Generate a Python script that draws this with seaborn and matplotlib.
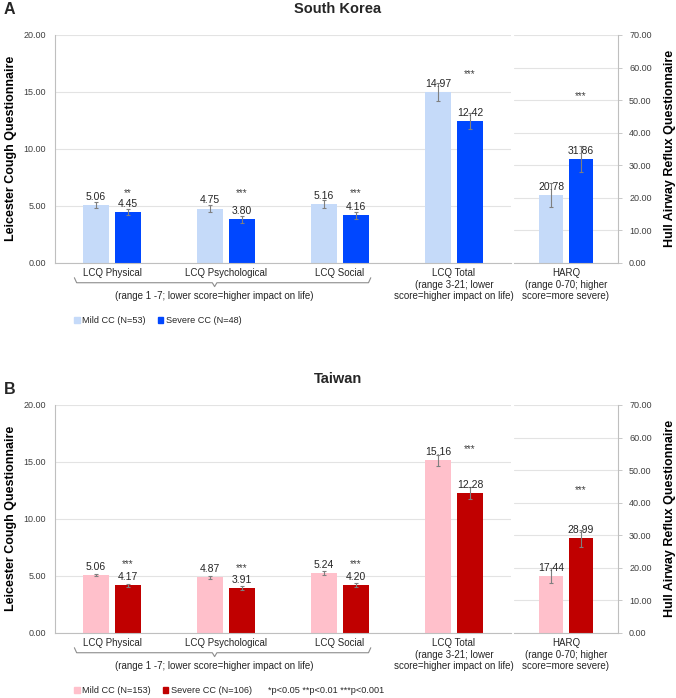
import numpy as np
import pandas as pd
import matplotlib
matplotlib.use('Agg')
import matplotlib.pyplot as plt
import matplotlib.transforms as mtransforms
from matplotlib.patches import Patch
import seaborn as sns

sns.set_style('white')
plt.rcParams['font.family'] = ['Liberation Sans', 'DejaVu Sans']

W, H = 676, 698
LCQ_CATS = ['LCQ Physical', 'LCQ Psychological', 'LCQ Social',
            'LCQ Total\n(range 3-21; lower\nscore=higher impact on life)']
HARQ_CAT = ['HARQ\n(range 0-70; higher\nscore=more severe)']
GROUPS = ['Mild CC', 'Severe CC']

# South Korea
kr_mild = [5.06, 4.75, 5.16, 14.97]
kr_severe = [4.45, 3.80, 4.16, 12.42]
kr_mild_err = [0.25, 0.32, 0.33, 0.80]
kr_severe_err = [0.28, 0.32, 0.32, 0.72]
kr_harq = [20.78, 31.86]
kr_harq_err = [3.7, 4.0]
kr_sig = ['**', '***', '***', '***']
kr_sig_y = [6.15, 6.1, 6.1, 16.6]
kr_harq_sig = '***'
kr_harq_sig_y = 51.3
kr_n = [53, 48]

# Taiwan
tw_mild = [5.06, 4.87, 5.24, 15.16]
tw_severe = [4.17, 3.91, 4.20, 12.28]
tw_mild_err = [0.12, 0.15, 0.20, 0.48]
tw_severe_err = [0.15, 0.15, 0.18, 0.55]
tw_harq = [17.44, 28.99]
tw_harq_err = [2.3, 2.6]
tw_sig = ['***', '***', '***', '***']
tw_sig_y = [6.0, 5.7, 6.0, 16.1]
tw_harq_sig = '***'
tw_harq_sig_y = 43.8
tw_n = [153, 106]

KR_COLORS = ['#C5DAF9', '#0047FF']
TW_COLORS = ['#FFC0CB', '#C00000']

GRID = '#e3e3e3'
SPINE = '#bfbfbf'
TXT = '#262626'


def rect(l, t, r, b):
    return [l / W, 1 - b / H, (r - l) / W, (b - t) / H]


def bar_labels(ax, errs):
    for cont, err in zip(ax.containers, errs):
        for bar, e in zip(cont, err):
            x = bar.get_x() + bar.get_width() / 2
            h = bar.get_height()
            ax.errorbar(x, h, yerr=e, color='#7f7f7f', lw=0.8, capsize=1.5,
                        capthick=0.8, zorder=4)
            ax.annotate(f'{h:.2f}', (x, h), xytext=(0, 6), textcoords='offset points',
                        ha='center', va='center', fontsize=7.5, color=TXT, zorder=5)


def style_axis(ax, side):
    ax.yaxis.grid(True, color=GRID, lw=0.8)
    ax.set_axisbelow(True)
    ax.set_xlabel('')
    for s in ['top', 'left', 'right']:
        ax.spines[s].set_visible(False)
    ax.spines['bottom'].set_color(SPINE)
    ax.spines[side].set_visible(True)
    ax.spines[side].set_color(SPINE)
    ax.tick_params(axis='x', length=0, pad=4, labelsize=7, labelcolor=TXT)
    ax.tick_params(axis='y', length=3, width=0.6, color=SPINE, labelsize=6.5,
                   labelcolor='#404040')


def panel(top, letter, title, letter_dy, colors, mild, severe, mild_err, severe_err,
          harq, harq_err, sig, sig_y, harq_sig, harq_sig_y, n, pnote):
    pal = dict(zip(GROUPS, colors))
    bot = top + 227.7
    ax1 = fig.add_axes(rect(55, top, 511, bot))
    ax2 = fig.add_axes(rect(514, top, 618, bot))

    df = pd.DataFrame({'domain': LCQ_CATS * 2,
                       'group': [g for g in GROUPS for _ in LCQ_CATS],
                       'value': mild + severe})
    sns.barplot(data=df, x='domain', y='value', hue='group', order=LCQ_CATS,
                hue_order=GROUPS, palette=pal, saturation=1, width=0.56, gap=0.19,
                errorbar=None, legend=False, linewidth=0, ax=ax1)
    dh = pd.DataFrame({'domain': HARQ_CAT * 2, 'group': GROUPS, 'value': harq})
    sns.barplot(data=dh, x='domain', y='value', hue='group', order=HARQ_CAT,
                hue_order=GROUPS, palette=pal, saturation=1, width=0.57, gap=0.19,
                errorbar=None, legend=False, linewidth=0, ax=ax2)

    bar_labels(ax1, [mild_err, severe_err])
    bar_labels(ax2, [[harq_err[0]], [harq_err[1]]])

    for bar, s, y in zip(ax1.containers[1], sig, sig_y):
        ax1.text(bar.get_x() + bar.get_width() / 2, y, s, ha='center', va='center',
                 fontsize=7, color='#404040')
    b = ax2.containers[1][0]
    ax2.text(b.get_x() + b.get_width() / 2, harq_sig_y, harq_sig, ha='center',
             va='center', fontsize=7, color='#404040')

    ax1.set_ylim(0, 20)
    ax1.set_yticks(np.arange(0, 21, 5))
    ax1.set_yticklabels([f'{v:.2f}' for v in np.arange(0, 21, 5)])
    ax1.set_xlim(-0.5, 3.5)
    style_axis(ax1, 'left')
    ax1.set_ylabel('Leicester Cough Questionnaire', fontsize=9, weight='bold',
                   color='black', labelpad=5)

    ax2.set_ylim(0, 70)
    ax2.set_yticks(np.arange(0, 71, 10))
    ax2.set_yticklabels([f'{v:.2f}' for v in np.arange(0, 71, 10)])
    ax2.set_xlim(-0.5, 0.5)
    ax2.yaxis.tick_right()
    ax2.yaxis.set_label_position('right')
    style_axis(ax2, 'right')
    ax2.tick_params(axis='y', pad=5)
    ax2.set_ylabel('Hull Airway Reflux Questionnaire', fontsize=9, weight='bold',
                   color='black', labelpad=9)

    # bracket under the three LCQ subscales
    tr = mtransforms.blended_transform_factory(ax1.transData, ax1.transAxes)
    bx = [-0.33, -0.31, 0.88, 0.90, 0.92, 2.25, 2.27]
    by = [-0.066, -0.088, -0.088, -0.105, -0.088, -0.088, -0.066]
    ax1.plot(bx, by, color='#8c8c8c', lw=0.8, transform=tr, clip_on=False)
    ax1.text(0.9, -0.147, '(range 1 -7; lower score=higher impact on life)',
             transform=tr, ha='center', va='center', fontsize=7, color=TXT)

    handles = [Patch(color=pal[g], label=f'{g} (N={k})') for g, k in zip(GROUPS, n)]
    ax1.legend(handles=handles, loc='center left', bbox_to_anchor=(0.042, -0.255),
               ncol=2, frameon=False, fontsize=6.6, handlelength=0.6, handleheight=0.6,
               handletextpad=0.3, columnspacing=1.3, borderpad=0, borderaxespad=0,
               labelcolor=TXT)
    if pnote:
        ax1.text(0.468, -0.255, pnote, transform=ax1.transAxes, ha='left',
                 va='center', fontsize=6.6, color=TXT)

    fig.text(338 / W, 1 - (top - 26) / H, title, ha='center', va='center',
             fontsize=10.5, weight='bold')
    fig.text(4 / W, 1 - (top - 26 + letter_dy) / H, letter, ha='left', va='center',
             fontsize=11.5, weight='bold')


fig = plt.figure(figsize=(6.76, 6.98), dpi=100)
panel(35, 'A', 'South Korea', 1, KR_COLORS, kr_mild, kr_severe, kr_mild_err,
      kr_severe_err, kr_harq, kr_harq_err, kr_sig, kr_sig_y, kr_harq_sig,
      kr_harq_sig_y, kr_n, None)
panel(405, 'B', 'Taiwan', 10, TW_COLORS, tw_mild, tw_severe, tw_mild_err,
      tw_severe_err, tw_harq, tw_harq_err, tw_sig, tw_sig_y, tw_harq_sig,
      tw_harq_sig_y, tw_n, '*p<0.05 **p<0.01 ***p<0.001')

plt.savefig('out.png', dpi=100)
